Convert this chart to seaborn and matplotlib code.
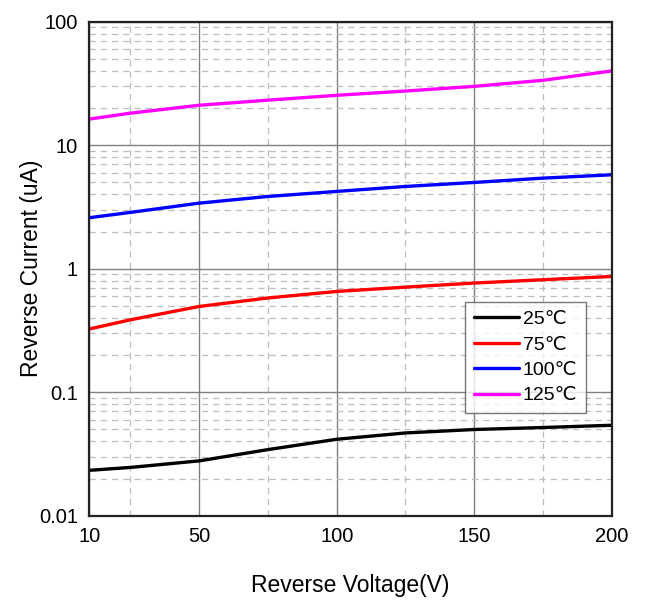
import matplotlib
matplotlib.use("Agg")
import matplotlib.pyplot as plt
import seaborn as sns
import pandas as pd
from matplotlib.ticker import FixedLocator, LogLocator, NullFormatter, FixedFormatter

# data
voltage = [10, 25, 50, 75, 100, 125, 150, 175, 200]
i_25c = [0.0233, 0.0246, 0.0278, 0.0343, 0.0416, 0.0468, 0.0499, 0.0518, 0.054]
i_75c = [0.325, 0.386, 0.495, 0.58, 0.655, 0.71, 0.766, 0.815, 0.866]
i_100c = [2.59, 2.86, 3.40, 3.85, 4.23, 4.64, 5.0, 5.42, 5.77]
i_125c = [16.3, 18.2, 21.1, 23.2, 25.4, 27.5, 30.0, 33.6, 40.0]
temps = ["25℃", "75℃", "100℃", "125℃"]
colors = ["#000000", "#ff0000", "#0000ff", "#ff00ff"]
x_ticks = [10, 50, 100, 150, 200]
x_minor = [25, 75, 125, 175]
y_ticks = [0.01, 0.1, 1, 10, 100]
y_tick_labels = ["0.01", "0.1", "1", "10", "100"]

rows = []
for t, vals in zip(temps, [i_25c, i_75c, i_100c, i_125c]):
    for v, c in zip(voltage, vals):
        rows.append({"V": v, "I": c, "T": t})
df = pd.DataFrame(rows)

sns.set_style("white")
plt.rcParams["font.family"] = ["Liberation Sans", "DejaVu Sans"]
plt.rcParams["text.color"] = "black"
plt.rcParams["axes.labelcolor"] = "black"
plt.rcParams["xtick.color"] = "black"
plt.rcParams["ytick.color"] = "black"

fig = plt.figure(figsize=(6.46, 6.06), dpi=100)
ax = fig.add_axes([0.138, 0.149, 0.809, 0.815])

sns.lineplot(data=df, x="V", y="I", hue="T", hue_order=temps,
             palette=colors, linewidth=2.4, ax=ax)

ax.set_yscale("log")
ax.set_xlim(10, 200)
ax.set_ylim(0.01, 100)

ax.xaxis.set_major_locator(FixedLocator(x_ticks))
ax.xaxis.set_minor_locator(FixedLocator(x_minor))
ax.yaxis.set_major_locator(FixedLocator(y_ticks))
ax.yaxis.set_major_formatter(FixedFormatter(y_tick_labels))
ax.yaxis.set_minor_locator(LogLocator(base=10, subs=range(2, 10)))
ax.yaxis.set_minor_formatter(NullFormatter())

ax.grid(which="major", color="#808080", linewidth=1.0, linestyle="-")
ax.grid(which="minor", color="#bdbdbd", linewidth=0.9, linestyle=(0, (5, 4)))
ax.set_axisbelow(True)

for s in ax.spines.values():
    s.set_color("#222222")
    s.set_linewidth(1.6)

ax.tick_params(axis="both", which="both", length=0, labelsize=14.5, pad=8)

ax.set_xlabel("Reverse Voltage(V)", fontsize=16.5, labelpad=20)
ax.set_ylabel("Reverse Current (uA)", fontsize=16.5, labelpad=-3)

leg = ax.legend(loc="upper left", bbox_to_anchor=(0.72, 0.433), fontsize=14,
                frameon=True, fancybox=False, handlelength=2.3,
                handletextpad=0.2, labelspacing=0.4, borderpad=0.45,
                borderaxespad=0)
leg.get_frame().set_edgecolor("#555555")
leg.get_frame().set_linewidth(1.0)
leg.set_title(None)
for line in leg.get_lines():
    line.set_linewidth(2.4)

fig.savefig("out.png", dpi=100)
plt.close(fig)
